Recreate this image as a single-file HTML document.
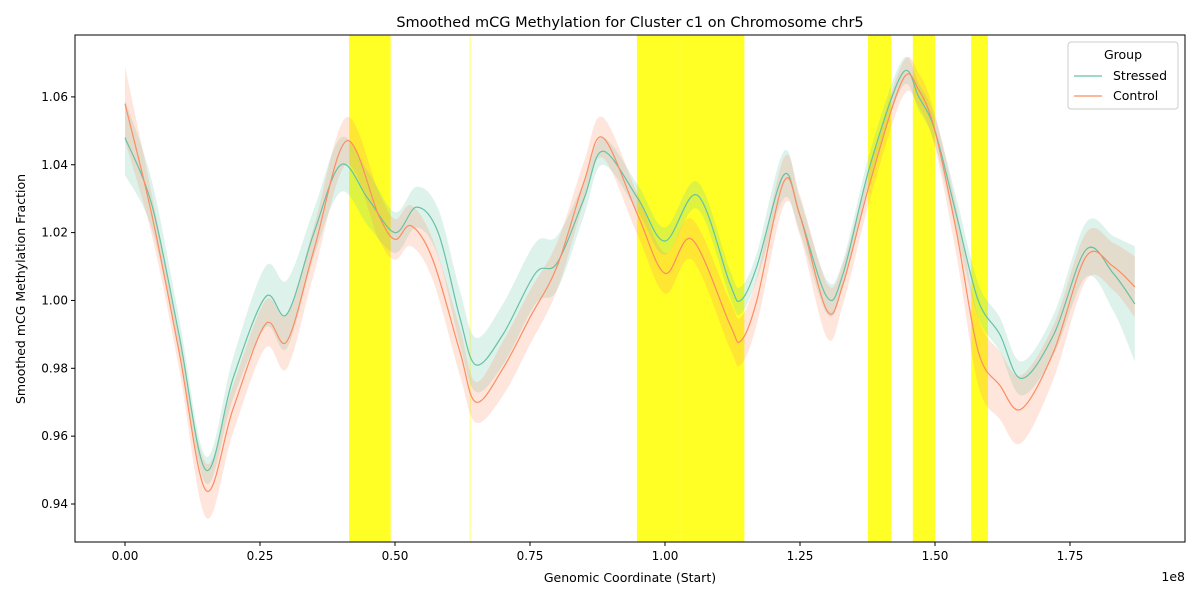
<!DOCTYPE html>
<html><head><meta charset="utf-8"><style>
body{margin:0;background:#fff;font-family:"Liberation Sans","DejaVu Sans",sans-serif;}
svg text{font-family:"DejaVu Sans","Liberation Sans",sans-serif;}
</style></head><body>
<svg id="chart" width="1200" height="600" xmlns="http://www.w3.org/2000/svg">
<rect width="1200" height="600" fill="#fff"/>
<text x="630" y="27" font-size="14.5" text-anchor="middle">Smoothed mCG Methylation for Cluster c1 on Chromosome chr5</text>
<g id="plot"></g>
<text x="630" y="582" font-size="12.5" text-anchor="middle">Genomic Coordinate (Start)</text>
<text x="1185" y="581" font-size="12.5" text-anchor="end">1e8</text>
<text transform="translate(25,289) rotate(-90)" font-size="12.5" text-anchor="middle">Smoothed mCG Methylation Fraction</text>
<g>
<rect x="1068" y="42" width="110" height="67" rx="3" fill="#fff" stroke="#ccc"/>
<text x="1123" y="59" font-size="12.5" text-anchor="middle">Group</text>
<line x1="1074" y1="76" x2="1102" y2="76" stroke="#66c2a5" stroke-width="1.2"/>
<text x="1113" y="80" font-size="12.5">Stressed</text>
<line x1="1074" y1="96" x2="1102" y2="96" stroke="#fc8d62" stroke-width="1.2"/>
<text x="1113" y="100" font-size="12.5">Control</text>
</g>
</svg>
<script>
const bands=[[0.415,0.492],[0.948,1.028],[1.028,1.147],[1.376,1.419],[1.459,1.50],[1.567,1.598]];
const faintBands=[[0.638,0.641]];
const sx=[0,0.05,0.1,0.15,0.2,0.26,0.3,0.35,0.4,0.45,0.5,0.54,0.58,0.62,0.65,0.7,0.76,0.8,0.85,0.885,0.95,1.0,1.06,1.12,1.14,1.17,1.22,1.25,1.3,1.33,1.38,1.44,1.47,1.5,1.54,1.58,1.62,1.66,1.72,1.78,1.83,1.87];
const sy=[1.048,1.028,0.99,0.950,0.977,1.001,0.996,1.02,1.040,1.03,1.02,1.0275,1.02,0.995,0.981,0.99,1.008,1.011,1.03,1.044,1.03,1.0175,1.031,1.005,1.0,1.01,1.037,1.025,1.001,1.008,1.04,1.067,1.06,1.05,1.025,1.0,0.99,0.977,0.99,1.015,1.008,0.999];
const se=[0.011,0.007,0.005,0.004,0.006,0.009,0.01,0.007,0.008,0.008,0.006,0.006,0.007,0.008,0.008,0.009,0.009,0.008,0.005,0.004,0.004,0.004,0.004,0.004,0.004,0.004,0.007,0.005,0.005,0.004,0.004,0.004,0.004,0.004,0.005,0.005,0.005,0.005,0.006,0.008,0.011,0.017];
const cx=[0,0.05,0.1,0.15,0.2,0.26,0.3,0.35,0.41,0.47,0.5,0.53,0.57,0.62,0.65,0.7,0.75,0.8,0.85,0.885,0.95,1.0,1.05,1.12,1.14,1.17,1.22,1.25,1.3,1.33,1.38,1.44,1.47,1.5,1.54,1.58,1.62,1.66,1.72,1.78,1.83,1.87];
const cy=[1.058,1.025,0.985,0.944,0.968,0.993,0.988,1.015,1.047,1.025,1.018,1.022,1.012,0.985,0.970,0.98,0.995,1.01,1.035,1.048,1.025,1.008,1.018,0.993,0.988,1.0,1.035,1.025,0.997,1.005,1.035,1.065,1.062,1.05,1.02,0.985,0.975,0.968,0.985,1.013,1.01,1.004];
const ce=[0.011,0.006,0.005,0.008,0.007,0.007,0.008,0.007,0.007,0.007,0.006,0.006,0.006,0.007,0.006,0.008,0.008,0.007,0.006,0.006,0.006,0.006,0.006,0.007,0.007,0.007,0.007,0.006,0.008,0.006,0.005,0.005,0.005,0.005,0.007,0.01,0.01,0.01,0.008,0.007,0.007,0.009];
const xticks=[0,0.25,0.5,0.75,1.0,1.25,1.5,1.75];
const yticks=[0.94,0.96,0.98,1.00,1.02,1.04,1.06];
const L=75,R=1185,T=35,B=542;
const X=v=>125+v*540, Y=v=>504-(v-0.94)*3392.5;
const NS="http://www.w3.org/2000/svg";
const g=document.getElementById('plot');
function mk(t,a,p){const e=document.createElementNS(NS,t);for(const k in a)e.setAttribute(k,a[k]);(p||g).appendChild(e);return e;}
function curve(pts){let d=`M${pts[0][0]},${pts[0][1]}`;for(let i=0;i<pts.length-1;i++){const p0=pts[Math.max(i-1,0)],p1=pts[i],p2=pts[i+1],p3=pts[Math.min(i+2,pts.length-1)];d+=`C${p1[0]+(p2[0]-p0[0])/6},${p1[1]+(p2[1]-p0[1])/6} ${p2[0]-(p3[0]-p1[0])/6},${p2[1]-(p3[1]-p1[1])/6} ${p2[0]},${p2[1]}`;}return d;}
function area(xs,ys,es){const up=xs.map((x,i)=>[X(x),Y(ys[i]+es[i])]);const lo=xs.map((x,i)=>[X(x),Y(ys[i]-es[i])]).reverse();return curve(up)+'L'+curve(lo).slice(1)+'Z';}
bands.forEach(b=>{const r=mk('rect',{x:X(b[0]),y:T,width:X(b[1])-X(b[0]),height:B-T,fill:'#ffff00','fill-opacity':0.85});

});
faintBands.forEach(b=>{const r=mk('rect',{x:X(b[0]),y:T,width:X(b[1])-X(b[0]),height:B-T,fill:'#ffff00','fill-opacity':0.35});

});
let a=mk('path',{d:area(sx,sy,se),fill:'#66c2a5','fill-opacity':0.22});


a=mk('path',{d:area(cx,cy,ce),fill:'#fc8d62','fill-opacity':0.22});


let l=mk('path',{d:curve(sx.map((x,i)=>[X(x),Y(sy[i])])),fill:'none',stroke:'#66c2a5','stroke-width':1.2});


l=mk('path',{d:curve(cx.map((x,i)=>[X(x),Y(cy[i])])),fill:'none',stroke:'#fc8d62','stroke-width':1.2});


mk('rect',{x:L,y:T,width:R-L,height:B-T,fill:'none',stroke:'#000','stroke-width':1});
xticks.forEach(t=>{mk('line',{x1:X(t),x2:X(t),y1:B,y2:B+4,stroke:'#000'});const tx=mk('text',{x:X(t),y:B+18,'font-size':12,'text-anchor':'middle'});tx.textContent=t.toFixed(2);

});
yticks.forEach(t=>{mk('line',{x1:L-4,x2:L,y1:Y(t),y2:Y(t),stroke:'#000'});const tx=mk('text',{x:L-7,y:Y(t)+4,'font-size':12,'text-anchor':'end'});tx.textContent=t.toFixed(2);

});
</script>
</body></html>
